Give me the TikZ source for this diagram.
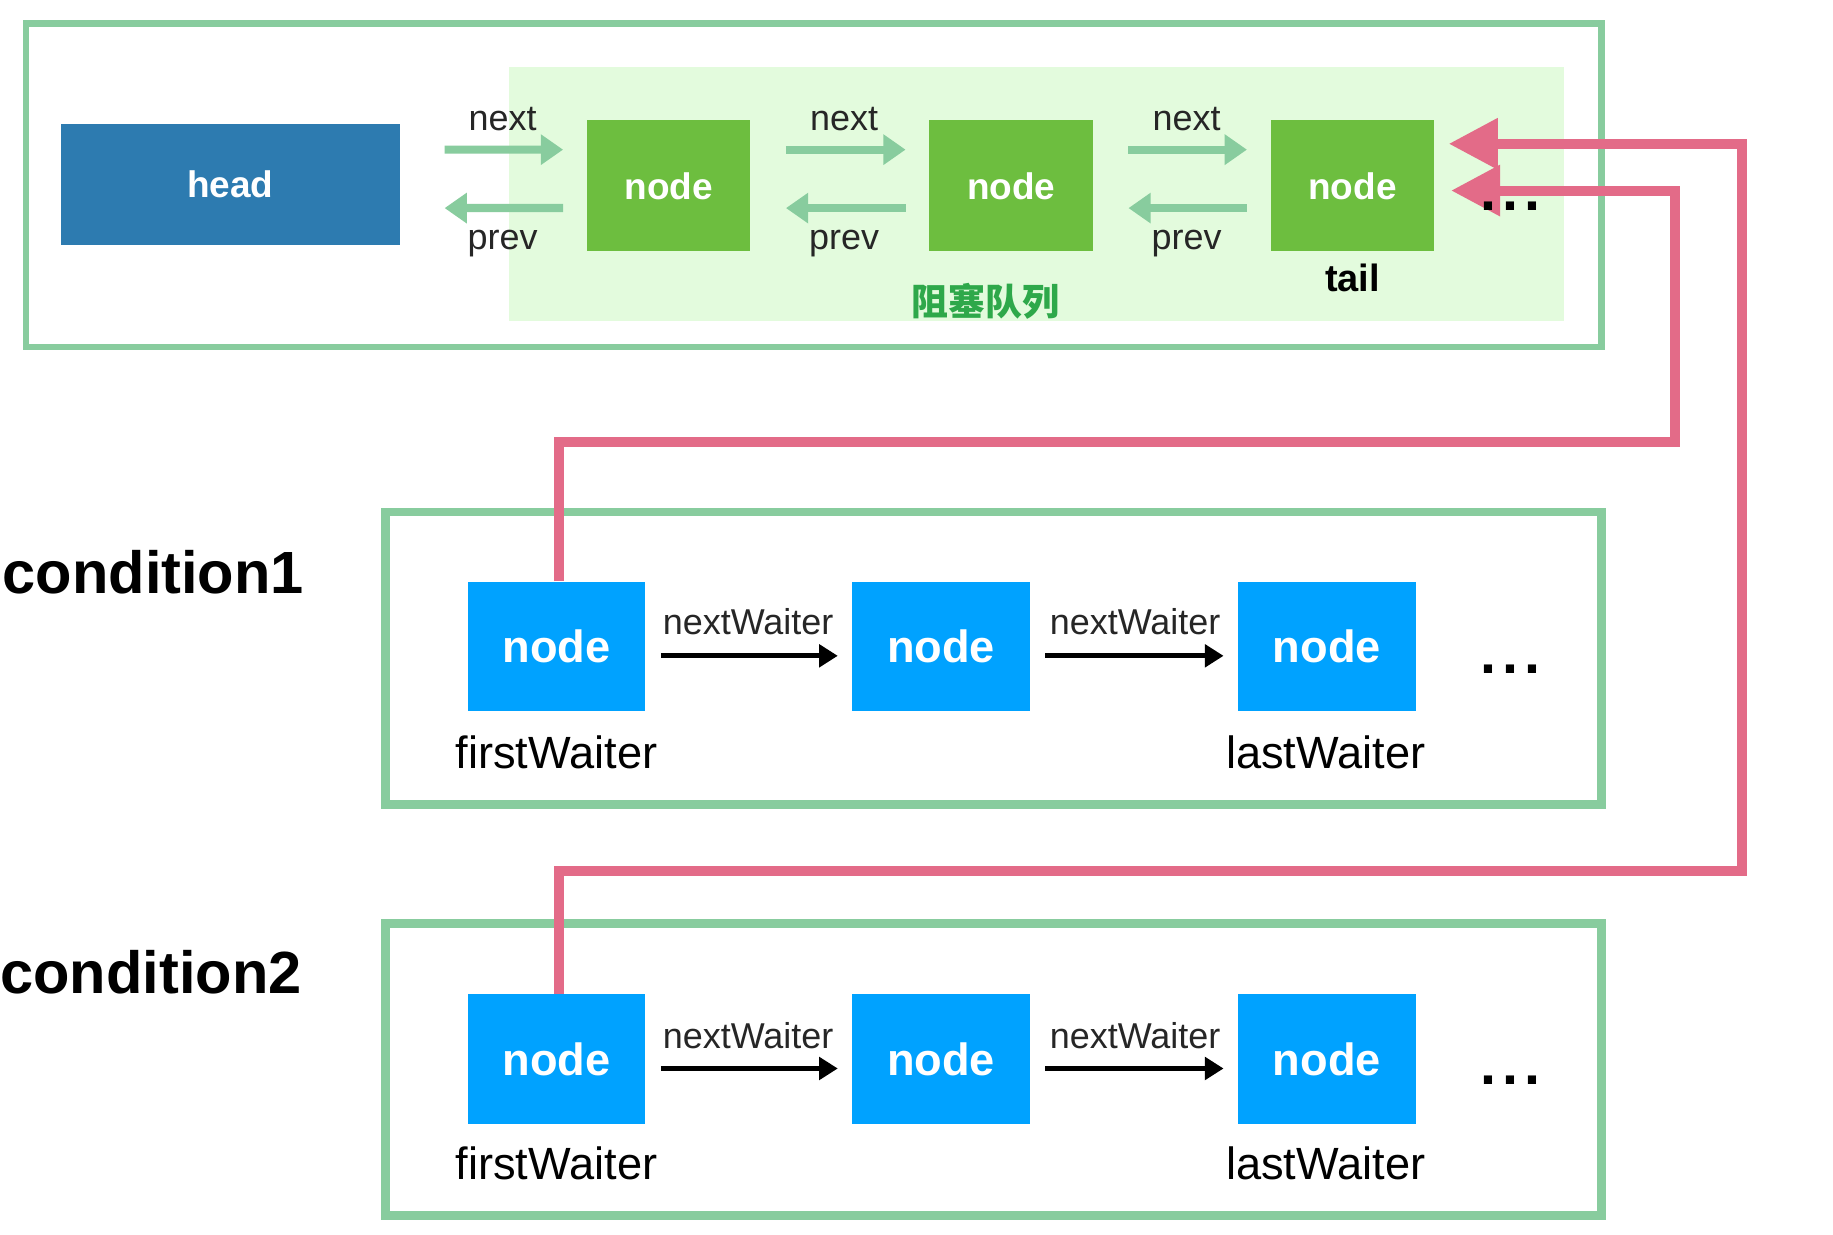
\documentclass[tikz,border=0pt]{standalone}
\usepackage{fontspec}
\setmainfont{Liberation Sans}
\newfontfamily\cjk{Noto Sans CJK SC}
\usetikzlibrary{arrows.meta,calc}
\definecolor{gborder}{HTML}{88CC9E}
\definecolor{gfill}{HTML}{E3FBDD}
\definecolor{headblue}{HTML}{2D7BB0}
\definecolor{qgreen}{HTML}{6DBE3F}
\definecolor{wblue}{HTML}{00A2FF}
\definecolor{pinkc}{HTML}{E36B88}
\definecolor{cjkgreen}{HTML}{2EA84A}
\tikzset{
  framebox/.style={draw=gborder, line width=0.15cm},
  headbox/.style={fill=headblue, minimum width=5.8cm, minimum height=2.08cm, inner sep=0pt,
     text=white, font=\fontsize{18}{20}\selectfont\bfseries},
  qnode/.style={fill=qgreen, minimum width=2.8cm, minimum height=2.24cm, inner sep=0pt,
     text=white, font=\fontsize{18}{20}\selectfont\bfseries},
  wnode/.style={fill=wblue, minimum width=3.04cm, minimum height=2.22cm, inner sep=0pt,
     text=white, font=\fontsize{22}{24}\selectfont\bfseries},
  garrow/.style={draw=gborder, line width=0.14cm, -{Triangle[length=0.38cm,width=0.5cm]}},
  barrow/.style={draw=black, line width=0.09cm, -{Triangle[length=0.32cm,width=0.38cm]}, shorten <=0.26cm, shorten >=0.24cm},
  parrow/.style={draw=pinkc, line width=0.17cm, line join=miter, -{Triangle[length=0.84cm,width=0.84cm]}},
  smalllbl/.style={inner sep=0pt, anchor=base, font=\fontsize{17.5}{19}\selectfont, text=black!85},
  waitlbl/.style={inner sep=0pt, anchor=base, font=\fontsize{22}{24}\selectfont},
  condlbl/.style={inner sep=0pt, anchor=base west, font=\fontsize{29}{31}\selectfont\bfseries},
  dots/.style={inner sep=0pt, anchor=base, font=\fontsize{28}{30}\selectfont\bfseries},
}
\newcommand{\mydots}{.\kern3pt.\kern3pt.}
\begin{document}
\begin{tikzpicture}[x=0.02cm, y=-0.02cm]
\useasboundingbox (0,0) rectangle (1568,1056);
\fill[white] (0,0) rectangle (1568,1056);

% ---------- top frame (AQS) ----------
\fill[gfill] (435,57) rectangle (1338,275);
\draw[draw=gborder, line width=0.11cm] (22,20) rectangle (1370,297);

\node[headbox] (h) at (197,158) {head};
\node[qnode] (n1) at (572,159) {node};
\node[qnode] (n2) at (865,159) {node};
\node[qnode] (n3) at (1157,159) {node};

\draw[garrow, shorten <=0.76cm, shorten >=0.4cm] ([yshift=0.6cm]h.east) -- ([yshift=0.62cm]n1.west);
\draw[garrow, shorten <=0.4cm, shorten >=0.76cm] ([yshift=-0.38cm]n1.west) -- ([yshift=-0.4cm]h.east);
\draw[garrow, shorten <=0.6cm, shorten >=0.4cm] ([yshift=0.62cm]n1.east) -- ([yshift=0.62cm]n2.west);
\draw[garrow, shorten <=0.4cm, shorten >=0.6cm] ([yshift=-0.38cm]n2.west) -- ([yshift=-0.38cm]n1.east);
\draw[garrow, shorten <=0.6cm, shorten >=0.4cm] ([yshift=0.62cm]n2.east) -- ([yshift=0.62cm]n3.west);
\draw[garrow, shorten <=0.4cm, shorten >=0.6cm] ([yshift=-0.38cm]n3.west) -- ([yshift=-0.38cm]n2.east);

\node[smalllbl] (nx1) at (430,112) {next};
\node[smalllbl] (pv1) at (430,213) {prev};
\node[smalllbl] (nx2) at (722,112) {next};
\node[smalllbl] (pv2) at (722,213) {prev};
\node[smalllbl] (nx3) at (1015,112) {next};
\node[smalllbl] (pv3) at (1015,213) {prev};

\node[inner sep=0pt, anchor=base, font=\fontsize{18.5}{20}\selectfont\bfseries] (tail) at (1157,249) {tail};
\node[inner sep=0pt, text=cjkgreen, font=\fontsize{18}{20}\selectfont\cjk\bfseries] (zs) at (843,258) {阻塞队列};

% ---------- condition1 ----------
\draw[framebox] (330,438) rectangle (1370,688);
\node[condlbl] (c1) at (2,508) {condition1};
\node[wnode] (a1) at (476,553) {node};
\node[wnode] (a2) at (805,553) {node};
\node[wnode] (a3) at (1135,553) {node};
\draw[barrow] ([yshift=-0.16cm]a1.east) -- ([yshift=-0.16cm]a2.west);
\draw[barrow] ([yshift=-0.16cm]a2.east) -- ([yshift=-0.16cm]a3.west);
\node[smalllbl] (w1) at (640,543) {nextWaiter};
\node[smalllbl] (w2) at (971,543) {nextWaiter};
\node[waitlbl] (f1) at (476,657) {firstWaiter};
\node[waitlbl] (l1) at (1134,657) {lastWaiter};
\node[dots] (d1) at (1292,576) {\mydots};

% ---------- condition2 ----------
\draw[framebox] (330,790) rectangle (1370,1040);
\node[condlbl] (c2) at (0,850) {condition2};
\node[wnode] (b1) at (476,906) {node};
\node[wnode] (b2) at (805,906) {node};
\node[wnode] (b3) at (1135,906) {node};
\draw[barrow] ([yshift=-0.16cm]b1.east) -- ([yshift=-0.16cm]b2.west);
\draw[barrow] ([yshift=-0.16cm]b2.east) -- ([yshift=-0.16cm]b3.west);
\node[smalllbl] (w3) at (640,897) {nextWaiter};
\node[smalllbl] (w4) at (971,897) {nextWaiter};
\node[waitlbl] (f2) at (476,1009) {firstWaiter};
\node[waitlbl] (l2) at (1134,1009) {lastWaiter};
\node[dots] (d2) at (1292,928) {\mydots};

% ---------- pink links ----------
\coordinate (pA) at (1490,745);
\coordinate (pB) at (1433,378);
\draw[parrow] ([xshift=0.04cm]b1.north) |- (pA) |- ([shift={(12,-36)}]n3.east);
\draw[parrow] ([xshift=0.04cm]a1.north) |- (pB) |- ([shift={(14,4)}]n3.east);

\node[dots] (d0) at (1292,180) {\mydots};
\end{tikzpicture}
\end{document}
